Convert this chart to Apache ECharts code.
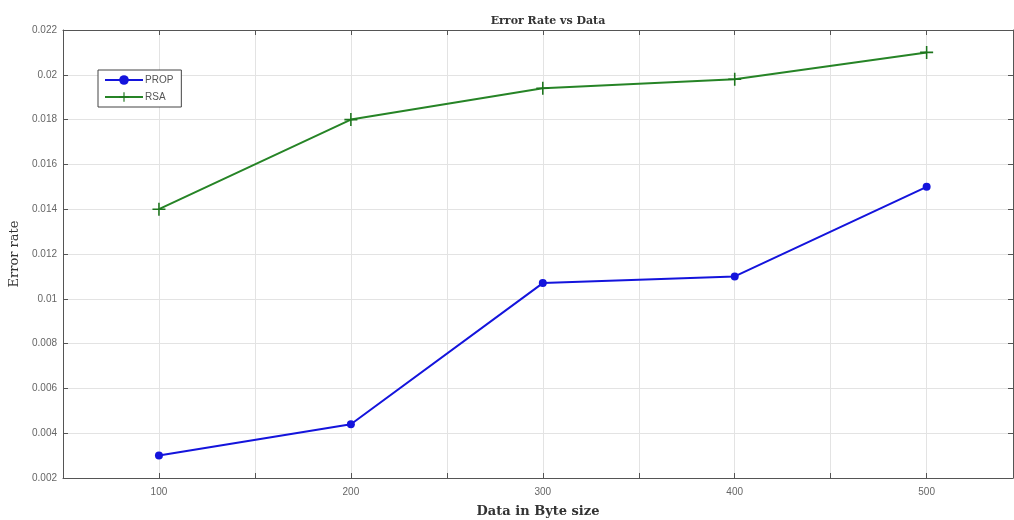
<!DOCTYPE html>
<html><head><meta charset="utf-8">
<script src="https://cdn.jsdelivr.net/npm/echarts@6/dist/echarts.min.js"></script>
<style>html,body{margin:0;padding:0;background:#fff}#c{width:1014px;height:520px}</style>
</head><body><div id="c"></div>
<script>
const categories = [100, 200, 300, 400, 500];
const propValues = [0.0030, 0.0044, 0.0107, 0.0110, 0.0150];
const rsaValues = [0.0140, 0.0180, 0.0194, 0.0198, 0.0210];
const yTicks = ['0.002','0.004','0.006','0.008','0.01','0.012','0.014','0.016','0.018','0.02','0.022'];

const plus = 'path://M4.4,0h1.2v4.4h4.4v1.2h-4.4v4.4h-1.2v-4.4h-4.4v-1.2h4.4z';
const chart = echarts.init(document.getElementById('c'));
const axisCol = '#555';
const gridLine = {show:true, lineStyle:{color:'#e3e3e3', width:1}};
const tickStyle = {show:true, inside:true, length:5, lineStyle:{color:axisCol}};
chart.setOption({
  animation:false,
  title:{text:'Error Rate vs Data', left:543, top:11, textAlign:'center',
    textStyle:{fontFamily:'DejaVu Serif', fontSize:11, fontWeight:'bold', color:'#333'}},
  grid:{left:63, right:1, top:30, bottom:42, containLabel:false, outerBoundsMode:'none'},
  legend:{orient:'vertical', left:98, top:70, padding:[5,8,5,6], itemGap:7,
    itemWidth:38, itemHeight:12, borderColor:'#444', borderWidth:1, backgroundColor:'#fff',
    textStyle:{fontFamily:'Liberation Sans', fontSize:10, color:'#555', padding:[0,0,0,-3]},
    data:['PROP','RSA']},
  xAxis:[{type:'value', min:50, max:545, interval:50,
    name:'Data in Byte size', nameLocation:'middle', nameGap:27,
    nameTextStyle:{fontFamily:'DejaVu Serif', fontSize:13, fontWeight:'bold', color:'#333'},
    axisLine:{show:true, onZero:false, lineStyle:{color:axisCol, width:1}},
    axisTick:tickStyle, splitLine:gridLine,
    axisLabel:{fontFamily:'Liberation Sans', fontSize:10, color:'#666', margin:9,
      formatter:v=> (v%100===0 ? String(v) : '')}},
    {type:'value', position:'top', min:50, max:545, interval:50,
    axisLine:{show:true, lineStyle:{color:axisCol}}, axisTick:tickStyle,
    axisLabel:{show:false}, splitLine:{show:false}}],
  yAxis:[{type:'value', min:0.002, max:0.022, interval:0.002,
    name:'Error rate', nameLocation:'middle', nameGap:38, nameRotate:90,
    nameTextStyle:{fontFamily:'DejaVu Serif', fontSize:13, color:'#333'},
    axisLine:{show:true, lineStyle:{color:axisCol}}, axisTick:tickStyle, splitLine:gridLine,
    axisLabel:{fontFamily:'Liberation Sans', fontSize:10, color:'#666', margin:6,
      formatter:v=> yTicks[Math.round((v-0.002)/0.002)]}},
    {type:'value', position:'right', min:0.002, max:0.022, interval:0.002,
    axisLine:{show:true, lineStyle:{color:axisCol}}, axisTick:tickStyle,
    axisLabel:{show:false}, splitLine:{show:false}}],
  series:[
    {name:'PROP', type:'line', data:categories.map((c,i)=>[c,propValues[i]]),
      symbol:'circle', symbolSize:8, showSymbol:true,
      itemStyle:{color:'#1414dc'}, lineStyle:{color:'#1414dc', width:2}},
    {name:'RSA', type:'line', data:categories.map((c,i)=>[c,rsaValues[i]]),
      symbol:plus, symbolSize:13, showSymbol:true,
      itemStyle:{color:'#1d751d'}, lineStyle:{color:'#268426', width:2}}
  ]
});
</script></body></html>
